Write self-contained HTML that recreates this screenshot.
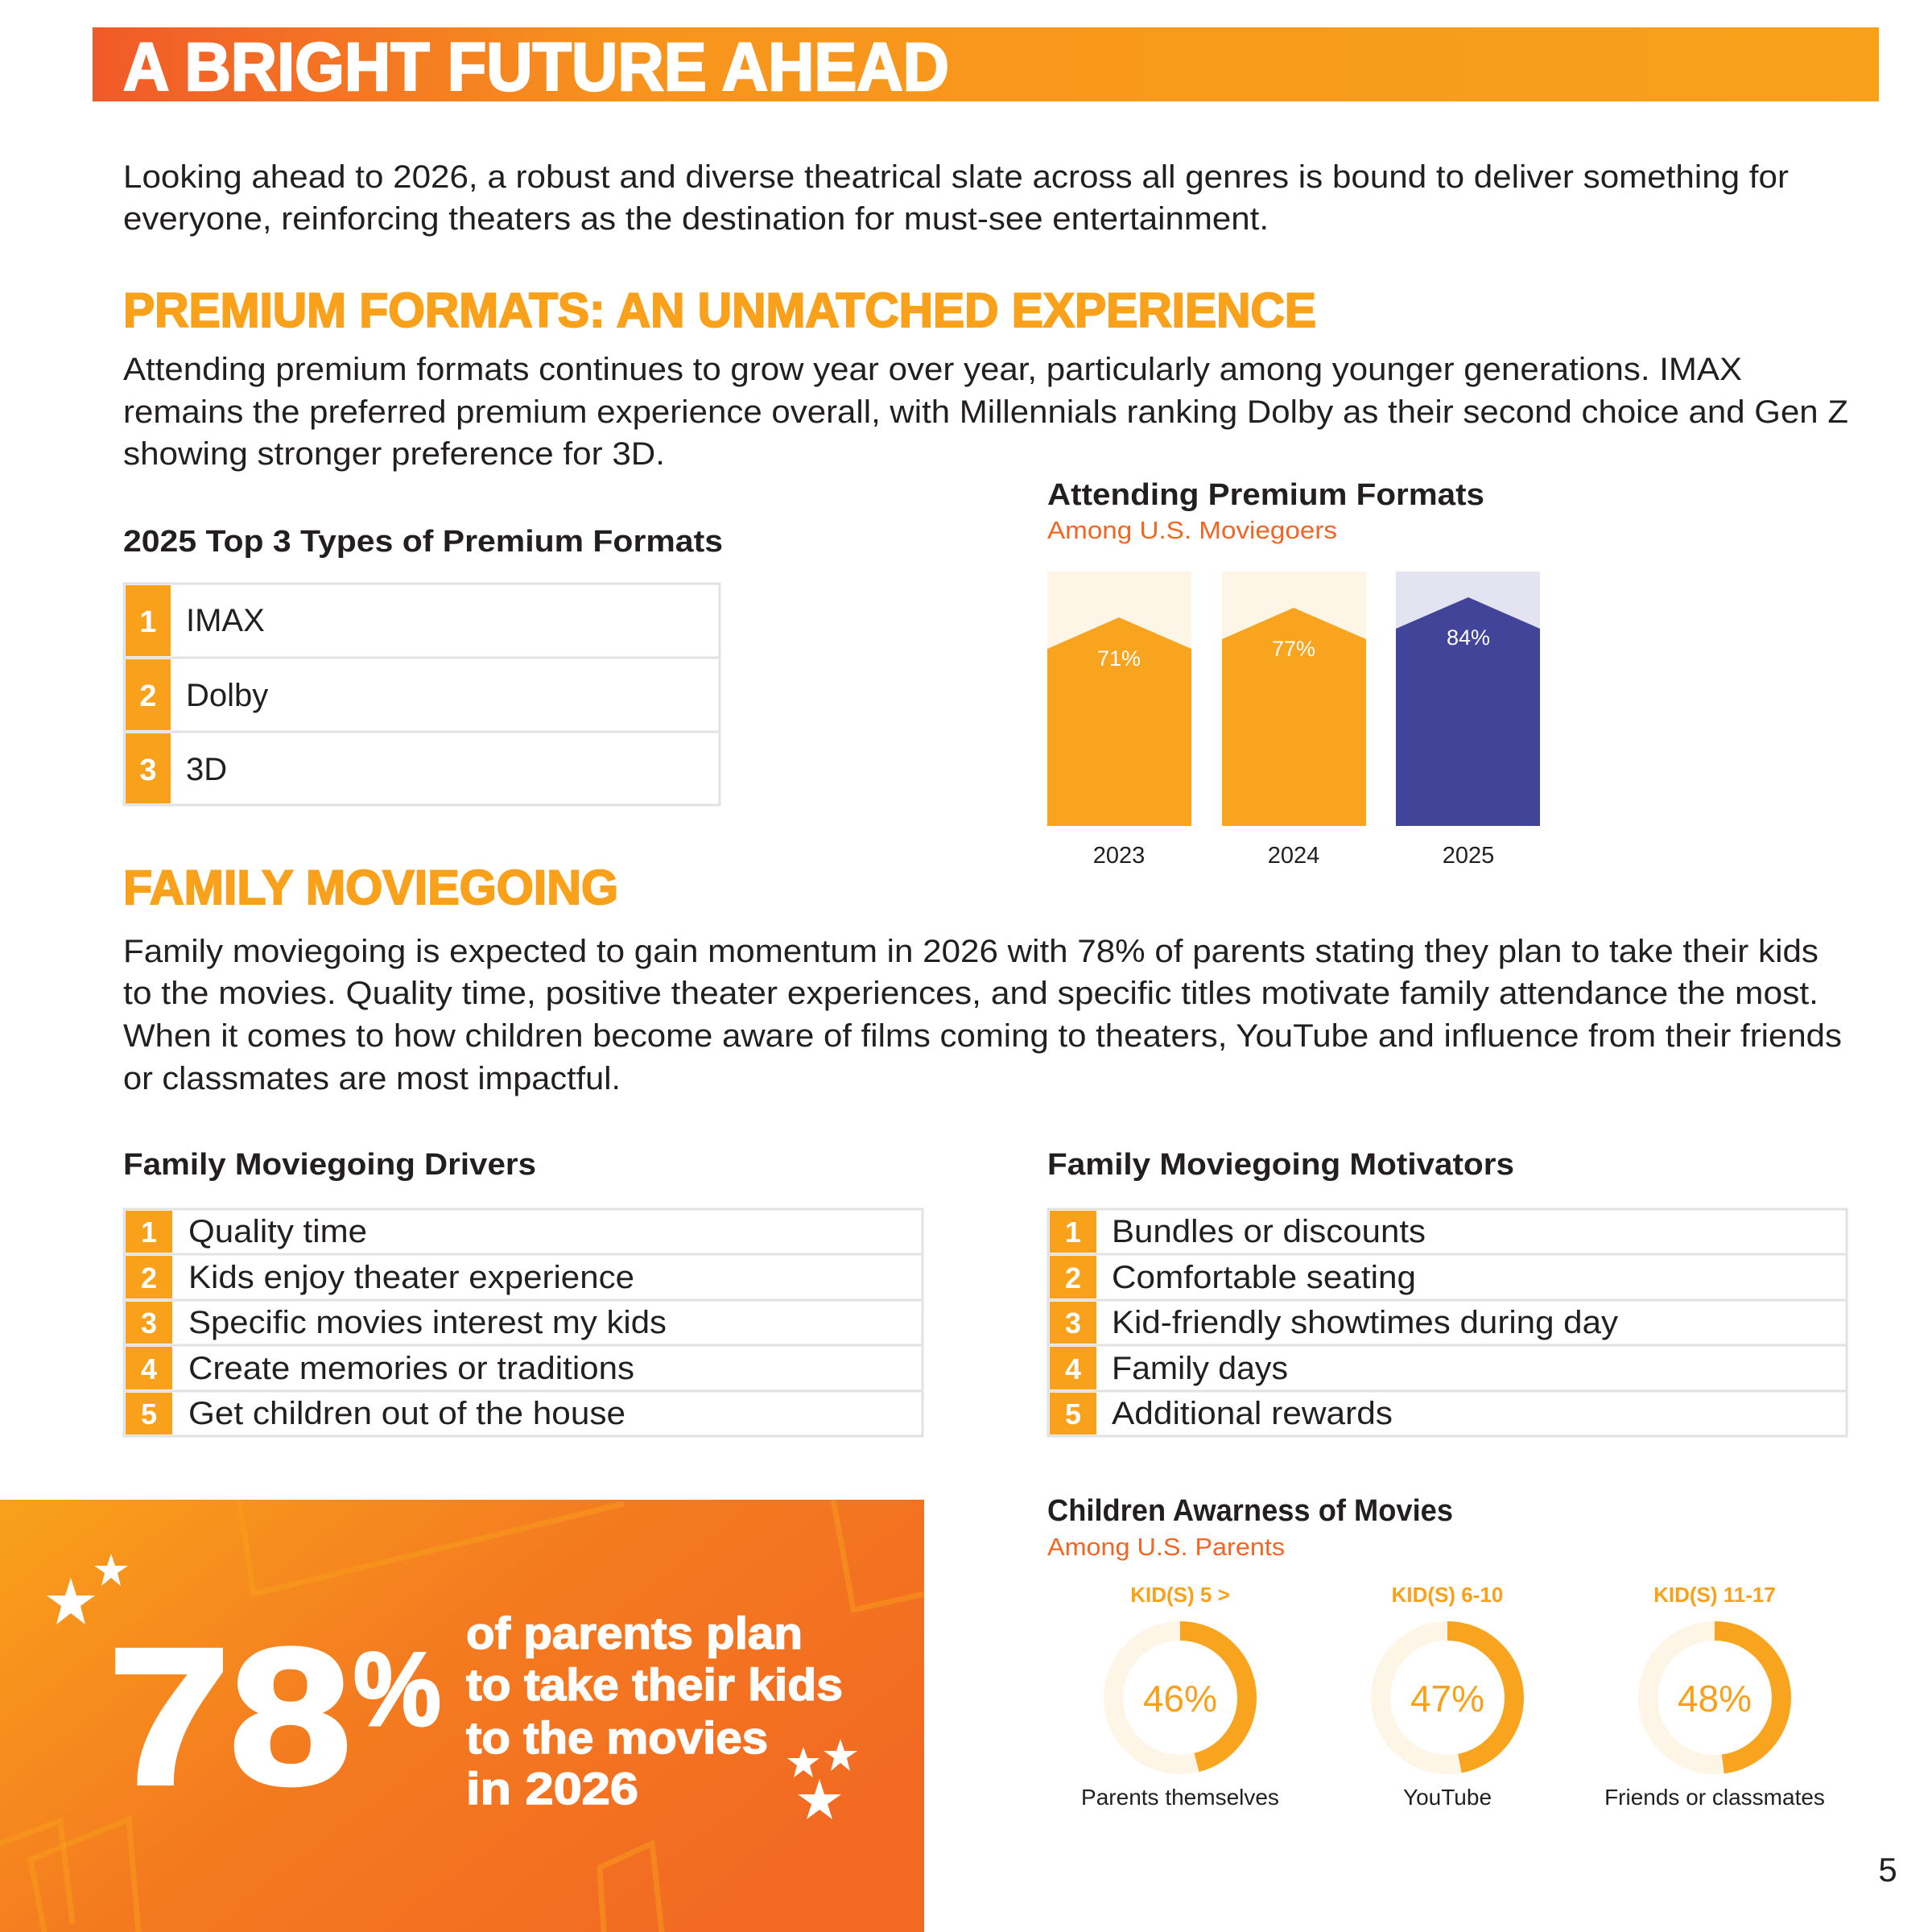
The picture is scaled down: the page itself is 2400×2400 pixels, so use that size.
<!DOCTYPE html>
<html><head><meta charset="utf-8"><style>
html,body{margin:0;padding:0;background:#fff}
svg{display:block}
text{font-family:"Liberation Sans",sans-serif}
.b{font-weight:bold}
</style></head><body>
<svg width="2400" height="2400" viewBox="0 0 2400 2400" xmlns="http://www.w3.org/2000/svg">
<defs>
<linearGradient id="hdr" x1="0" y1="0" x2="1" y2="0">
<stop offset="0" stop-color="#f15a29"/><stop offset="0.3" stop-color="#f7941d"/><stop offset="1" stop-color="#f9a11b"/>
</linearGradient>
<linearGradient id="box" x1="0" y1="0" x2="1" y2="0.6">
<stop offset="0" stop-color="#f9a11b"/><stop offset="0.5" stop-color="#f47b20"/><stop offset="1" stop-color="#f26a22"/>
</linearGradient>
</defs>
<rect x="115" y="34" width="2219" height="92" fill="url(#hdr)"/>
<text x="153" y="112" font-size="84" class="b" fill="#fff" stroke="#fff" stroke-width="2.5" textLength="1026" lengthAdjust="spacingAndGlyphs">A BRIGHT FUTURE AHEAD</text>

<g font-size="40" fill="#231f20">
<text x="153" y="233" textLength="2069" lengthAdjust="spacingAndGlyphs">Looking ahead to 2026, a robust and diverse theatrical slate across all genres is bound to deliver something for</text>
<text x="153" y="285" textLength="1423" lengthAdjust="spacingAndGlyphs">everyone, reinforcing theaters as the destination for must-see entertainment.</text>
<text x="153" y="472" textLength="2011" lengthAdjust="spacingAndGlyphs">Attending premium formats continues to grow year over year, particularly among younger generations. IMAX</text>
<text x="153" y="525" textLength="2143" lengthAdjust="spacingAndGlyphs">remains the preferred premium experience overall, with Millennials ranking Dolby as their second choice and Gen Z</text>
<text x="153" y="577" textLength="673" lengthAdjust="spacingAndGlyphs">showing stronger preference for 3D.</text>
<text x="153" y="1195" textLength="2106" lengthAdjust="spacingAndGlyphs">Family moviegoing is expected to gain momentum in 2026 with 78% of parents stating they plan to take their kids</text>
<text x="153" y="1247" textLength="2106" lengthAdjust="spacingAndGlyphs">to the movies. Quality time, positive theater experiences, and specific titles motivate family attendance the most.</text>
<text x="153" y="1300" textLength="2135" lengthAdjust="spacingAndGlyphs">When it comes to how children become aware of films coming to theaters, YouTube and influence from their friends</text>
<text x="153" y="1353" textLength="618" lengthAdjust="spacingAndGlyphs">or classmates are most impactful.</text>
</g>

<text x="153" y="406" font-size="60" class="b" fill="#f9a11b" stroke="#f9a11b" stroke-width="2" textLength="1482" lengthAdjust="spacingAndGlyphs">PREMIUM FORMATS: AN UNMATCHED EXPERIENCE</text>
<text x="153" y="1123" font-size="60" class="b" fill="#f9a11b" stroke="#f9a11b" stroke-width="2" textLength="615" lengthAdjust="spacingAndGlyphs">FAMILY MOVIEGOING</text>

<g class="b" font-size="38" fill="#231f20">
<text x="153" y="685" textLength="745" lengthAdjust="spacingAndGlyphs">2025 Top 3 Types of Premium Formats</text>
<text x="1301" y="627" textLength="543" lengthAdjust="spacingAndGlyphs">Attending Premium Formats</text>
<text x="153" y="1459" textLength="513" lengthAdjust="spacingAndGlyphs">Family Moviegoing Drivers</text>
<text x="1301" y="1459" textLength="580" lengthAdjust="spacingAndGlyphs">Family Moviegoing Motivators</text>
<text x="1301" y="1889" textLength="504" lengthAdjust="spacingAndGlyphs">Children Awarness of Movies</text>
</g>
<text x="1301" y="669" font-size="31" fill="#f26522" textLength="360" lengthAdjust="spacingAndGlyphs">Among U.S. Moviegoers</text>
<text x="1301" y="1932" font-size="31" fill="#f26522" textLength="295" lengthAdjust="spacingAndGlyphs">Among U.S. Parents</text>

<g>
<rect x="154" y="725" width="740" height="275" fill="none" stroke="#e2e2e2" stroke-width="3"/>
<line x1="154" y1="817" x2="894" y2="817" stroke="#e2e2e2" stroke-width="3"/>
<line x1="154" y1="909" x2="894" y2="909" stroke="#e2e2e2" stroke-width="3"/>
<rect x="156" y="727" width="56" height="88" fill="#f9a11b"/>
<rect x="156" y="819" width="56" height="88" fill="#f9a11b"/>
<rect x="156" y="911" width="56" height="87" fill="#f9a11b"/>
<g class="b" font-size="38" fill="#fff" text-anchor="middle">
<text x="184" y="785">1</text><text x="184" y="877">2</text><text x="184" y="969">3</text>
</g>
<g font-size="40" fill="#231f20">
<text x="231" y="784">IMAX</text><text x="231" y="877">Dolby</text><text x="231" y="969">3D</text>
</g>
</g>

<rect x="1301" y="710" width="179" height="316" fill="#fdf5e6"/>
<rect x="1518" y="710" width="179" height="316" fill="#fdf5e6"/>
<rect x="1734" y="710" width="179" height="316" fill="#e3e3f1"/>
<polygon points="1301,806 1390,767 1480,806 1480,1026 1301,1026" fill="#f9a41e"/>
<polygon points="1518,794 1607,755 1697,794 1697,1026 1518,1026" fill="#f9a41e"/>
<polygon points="1734,781 1824,742 1913,781 1913,1026 1734,1026" fill="#414499"/>
<g font-size="27" fill="#fff" text-anchor="middle">
<text x="1390" y="827">71%</text><text x="1607" y="815">77%</text><text x="1824" y="801">84%</text>
</g>
<g font-size="29" fill="#231f20" text-anchor="middle">
<text x="1390" y="1072">2023</text><text x="1607" y="1072">2024</text><text x="1824" y="1072">2025</text>
</g>

<g stroke="#e2e2e2" stroke-width="3" fill="none">
<rect x="154" y="1502" width="992" height="282"/>
<rect x="1302" y="1502" width="992" height="282"/>
<path d="M154 1558H1146M154 1615H1146M154 1671H1146M154 1728H1146M1302 1558H2294M1302 1615H2294M1302 1671H2294M1302 1728H2294"/>
</g>
<g fill="#f9a11b">
<rect x="156" y="1504" width="58" height="52"/><rect x="156" y="1560" width="58" height="53"/><rect x="156" y="1617" width="58" height="52"/><rect x="156" y="1673" width="58" height="53"/><rect x="156" y="1730" width="58" height="52"/>
<rect x="1304" y="1504" width="58" height="52"/><rect x="1304" y="1560" width="58" height="53"/><rect x="1304" y="1617" width="58" height="52"/><rect x="1304" y="1673" width="58" height="53"/><rect x="1304" y="1730" width="58" height="52"/>
</g>
<g class="b" font-size="36" fill="#fff" text-anchor="middle">
<text x="185" y="1543">1</text><text x="185" y="1600">2</text><text x="185" y="1656">3</text><text x="185" y="1713">4</text><text x="185" y="1769">5</text>
<text x="1333" y="1543">1</text><text x="1333" y="1600">2</text><text x="1333" y="1656">3</text><text x="1333" y="1713">4</text><text x="1333" y="1769">5</text>
</g>
<g font-size="40" fill="#231f20">
<text x="234" y="1543" textLength="222" lengthAdjust="spacingAndGlyphs">Quality time</text>
<text x="234" y="1600" textLength="554" lengthAdjust="spacingAndGlyphs">Kids enjoy theater experience</text>
<text x="234" y="1656" textLength="594" lengthAdjust="spacingAndGlyphs">Specific movies interest my kids</text>
<text x="234" y="1713" textLength="554" lengthAdjust="spacingAndGlyphs">Create memories or traditions</text>
<text x="234" y="1769" textLength="543" lengthAdjust="spacingAndGlyphs">Get children out of the house</text>
<text x="1381" y="1543" textLength="390" lengthAdjust="spacingAndGlyphs">Bundles or discounts</text>
<text x="1381" y="1600" textLength="378" lengthAdjust="spacingAndGlyphs">Comfortable seating</text>
<text x="1381" y="1656" textLength="629" lengthAdjust="spacingAndGlyphs">Kid-friendly showtimes during day</text>
<text x="1381" y="1713" textLength="219" lengthAdjust="spacingAndGlyphs">Family days</text>
<text x="1381" y="1769" textLength="349" lengthAdjust="spacingAndGlyphs">Additional rewards</text>
</g>

<rect x="0" y="1863" width="1148" height="537" fill="url(#box)"/>
<g fill="none" stroke="#f9a11b" stroke-opacity="0.45" stroke-width="7">
<polyline points="297,1863 315,1980 775,1868"/>
<polyline points="1035,1863 1042,1900 1052,1955 1060,2000 1148,1980"/>
<polyline points="0,2290 75,2262 90,2390"/>
<polyline points="55,2400 38,2310 160,2260 172,2400"/>
<polyline points="750,2400 745,2320 810,2290 822,2400"/>
</g>
<g fill="#fff">
<polygon points="138,1930 143,1945 159,1945 146,1954 150,1970 138,1960 126,1970 130,1954 117,1945 133,1945"/>
<polygon points="88,1960 95,1982 118,1982 100,1995 106,2018 88,2004 70,2018 76,1995 58,1982 81,1982"/>
<polygon points="1044,2160 1049,2175 1065,2175 1052,2184 1056,2200 1044,2190 1032,2200 1036,2184 1023,2175 1039,2175"/>
<polygon points="998,2170 1003,2184 1018,2184 1006,2193 1010,2208 998,2199 986,2208 990,2193 978,2184 993,2184"/>
<polygon points="1018,2210 1024,2229 1045,2229 1028,2241 1034,2260 1018,2248 1002,2260 1008,2241 991,2229 1012,2229"/>
</g>
<text x="135" y="2215" font-size="240" class="b" fill="#fff" stroke="#fff" stroke-width="6" textLength="301" lengthAdjust="spacingAndGlyphs">78</text>
<text x="439" y="2143" font-size="130" class="b" fill="#fff" stroke="#fff" stroke-width="3" textLength="109" lengthAdjust="spacingAndGlyphs">%</text>
<g class="b" font-size="56" fill="#fff" stroke="#fff" stroke-width="1.5">
<text x="579" y="2048" textLength="418" lengthAdjust="spacingAndGlyphs">of parents plan</text>
<text x="579" y="2112" textLength="468" lengthAdjust="spacingAndGlyphs">to take their kids</text>
<text x="579" y="2178" textLength="375" lengthAdjust="spacingAndGlyphs">to the movies</text>
<text x="579" y="2241" textLength="214" lengthAdjust="spacingAndGlyphs">in 2026</text>
</g>

<g class="b" font-size="26" fill="#f9a11b" text-anchor="middle">
<text x="1466" y="1990">KID(S) 5 &gt;</text><text x="1798" y="1990">KID(S) 6-10</text><text x="2130" y="1990">KID(S) 11-17</text>
</g>
<g fill="none" stroke-width="24">
<circle cx="1466" cy="2109" r="83" stroke="#fdf5e6"/>
<circle cx="1798" cy="2109" r="83" stroke="#fdf5e6"/>
<circle cx="2130" cy="2109" r="83" stroke="#fdf5e6"/>
<circle cx="1466" cy="2109" r="83" stroke="#f9a41e" stroke-dasharray="239.9 1000" transform="rotate(-90 1466 2109)"/>
<circle cx="1798" cy="2109" r="83" stroke="#f9a41e" stroke-dasharray="245.1 1000" transform="rotate(-90 1798 2109)"/>
<circle cx="2130" cy="2109" r="83" stroke="#f9a41e" stroke-dasharray="250.3 1000" transform="rotate(-90 2130 2109)"/>
</g>
<g font-size="46" fill="#f9a11b" text-anchor="middle">
<text x="1466" y="2126">46%</text><text x="1798" y="2126">47%</text><text x="2130" y="2126">48%</text>
</g>
<g font-size="28" fill="#231f20" text-anchor="middle">
<text x="1466" y="2242">Parents themselves</text><text x="1798" y="2242">YouTube</text><text x="2130" y="2242">Friends or classmates</text>
</g>
<text x="2345" y="2337" font-size="42" fill="#231f20" text-anchor="middle">5</text>
</svg>
</body></html>
